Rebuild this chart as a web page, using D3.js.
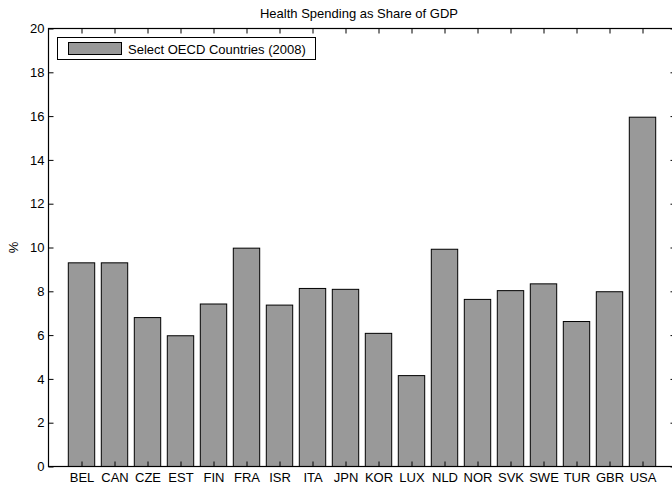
<!DOCTYPE html>
<html>
<head>
<meta charset="utf-8">
<script src="https://cdn.jsdelivr.net/npm/d3@7"></script>
<style>
  html, body { margin: 0; padding: 0; background: #fff; }
  svg { display: block; font-family: "Liberation Sans", Arial, Helvetica, sans-serif; }
</style>
</head>
<body>
<svg id="chart" width="672" height="486"></svg>
<script>
// Health spending as a share of GDP, selected OECD countries, 2008
const countries = ["BEL","CAN","CZE","EST","FIN","FRA","ISR","ITA","JPN","KOR","LUX","NLD","NOR","SVK","SWE","TUR","GBR","USA"];
const spending = [9.3, 9.3, 6.8, 5.97, 7.42, 9.97, 7.37, 8.13, 8.09, 6.08, 4.15, 9.92, 7.63, 8.03, 8.34, 6.62, 7.98, 15.95];
const yTicks = [0, 2, 4, 6, 8, 10, 12, 14, 16, 18, 20];
const titleText = "Health Spending as Share of GDP";
const legendText = "Select OECD Countries (2008)";
const yLabel = "%";

const svg = d3.select("#chart");
const plotLeft = 48.5, plotRight = 675.5, plotTop = 28.5, plotBottom = 466.5;

// index-based x scale with one slot of padding on each side
const x = d3.scaleLinear().domain([0, countries.length + 1]).range([plotLeft, plotRight]);
const y = d3.scaleLinear().domain([0, 20]).range([plotBottom, plotTop]);
const barW = (x(1) - x(0)) * 0.8;

// bars
svg.append("g").selectAll("rect")
  .data(spending)
  .join("rect")
  .attr("x", (d, i) => x(i + 1) - barW / 2)
  .attr("y", d => y(d))
  .attr("width", barW)
  .attr("height", d => y(0) - y(d))
  .attr("fill", "#999999")
  .attr("stroke", "#000")
  .attr("stroke-width", 1);

// box frame
svg.append("rect")
  .attr("x", plotLeft).attr("y", plotTop)
  .attr("width", plotRight - plotLeft).attr("height", plotBottom - plotTop)
  .attr("fill", "none").attr("stroke", "#000").attr("stroke-width", 1.2);

const tickLen = 5;
const fontSize = 13;

// left axis: inward ticks, labels outside
const yAxisL = d3.axisLeft(y).tickValues(yTicks).tickSizeInner(-tickLen).tickSizeOuter(0).tickPadding(4);
const gL = svg.append("g").attr("transform", `translate(${plotLeft},0)`).call(yAxisL);
gL.select(".domain").remove();
gL.selectAll("text").attr("font-size", fontSize).attr("fill", "#000").attr("font-family", null);
gL.selectAll("line").attr("stroke", "#000");

// right axis: inward ticks only
const yAxisR = d3.axisRight(y).tickValues(yTicks).tickSizeInner(-tickLen).tickSizeOuter(0).tickFormat("");
const gR = svg.append("g").attr("transform", `translate(${plotRight},0)`).call(yAxisR);
gR.select(".domain").remove();
gR.selectAll("line").attr("stroke", "#000");

// bottom axis: country labels
const xTickVals = countries.map((c, i) => i + 1);
const xAxisB = d3.axisBottom(x).tickValues(xTickVals).tickFormat((d) => countries[d - 1])
  .tickSizeInner(-tickLen).tickSizeOuter(0).tickPadding(6);
const gB = svg.append("g").attr("transform", `translate(0,${plotBottom})`).call(xAxisB);
gB.select(".domain").remove();
gB.selectAll("text").attr("font-size", fontSize).attr("fill", "#000").attr("font-family", null);
gB.selectAll("line").attr("stroke", "#000");

// top axis: inward ticks only
const xAxisT = d3.axisTop(x).tickValues(xTickVals).tickSizeInner(-tickLen).tickSizeOuter(0).tickFormat("");
const gT = svg.append("g").attr("transform", `translate(0,${plotTop})`).call(xAxisT);
gT.select(".domain").remove();
gT.selectAll("line").attr("stroke", "#000");

// title
svg.append("text")
  .attr("x", (plotLeft + plotRight) / 2 - 3).attr("y", 18)
  .attr("text-anchor", "middle").attr("font-size", fontSize)
  .text(titleText);

// y label
svg.append("text")
  .attr("transform", `translate(18,${(plotTop + plotBottom) / 2}) rotate(-90)`)
  .attr("text-anchor", "middle").attr("font-size", fontSize)
  .text(yLabel);

// legend
const lg = svg.append("g");
lg.append("rect")
  .attr("x", 57.5).attr("y", 37.5).attr("width", 258).attr("height", 22)
  .attr("fill", "#fff").attr("stroke", "#000").attr("stroke-width", 1);
lg.append("rect")
  .attr("x", 68.5).attr("y", 42.5).attr("width", 53).attr("height", 12)
  .attr("fill", "#999999").attr("stroke", "#000").attr("stroke-width", 1);
lg.append("text")
  .attr("x", 128).attr("y", 53.5).attr("font-size", fontSize)
  .text(legendText);
</script>
</body>
</html>
